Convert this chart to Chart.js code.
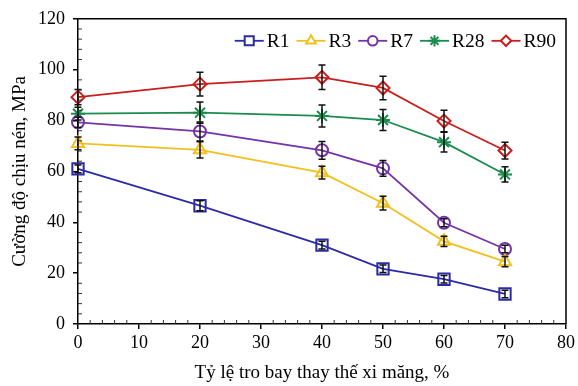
<!DOCTYPE html>
<html lang="vi">
<head>
    <meta charset="UTF-8">
    <title>Cường độ chịu nén</title>
    <script src="https://cdn.jsdelivr.net/npm/chart.js"></script>
    <style>
        html, body { margin: 0; padding: 0; background: #ffffff; }
        #wrap { width: 578px; height: 386px; position: relative; }
    </style>
</head>
<body>
    <div id="wrap"><canvas id="strengthChart"></canvas></div>
    <script>
        // Data
        const flyAsh = [0, 20, 40, 50, 60, 70];
        const labels = ['R1', 'R3', 'R7', 'R28', 'R90'];
        const r1 = [61, 46.5, 31, 21.7, 17.6, 11.8];
        const r3 = [71, 68.5, 59.5, 47.5, 32.5, 24.5];
        const r7 = [79.3, 75.7, 68.3, 61.2, 39.8, 29.5];
        const r28 = [82.7, 83.1, 81.8, 80.2, 71.5, 58.8];
        const r90 = [89.2, 94.3, 97, 92.8, 79.8, 68.2];
        const r1Err = [1.5, 2, 1.5, 1.5, 1.5, 1.5];
        const r3Err = [2.5, 3.2, 2.5, 2.7, 2, 2];
        const r7Err = [2, 3.7, 3.5, 3.1, 1.6, 1.5];
        const r28Err = [2.5, 4.2, 4.3, 4.1, 3.9, 3];
        const r90Err = [3, 4.7, 4.8, 4.6, 4.2, 3.3];
        const yTicks = [0, 20, 40, 60, 80, 100, 120];
        const xTicks = [0, 10, 20, 30, 40, 50, 60, 70, 80];

        const seriesValues = [r1, r3, r7, r28, r90];
        const seriesErrors = [r1Err, r3Err, r7Err, r28Err, r90Err];
        const colors = ['#2B2BA6', '#F2C01E', '#7434A8', '#1A8C4E', '#C81E1E'];
        const markers = ['rect', 'triangle', 'circle', 'star', 'rectRot'];
        const radii = [8, 7, 6, 7, 6.5];
        const FONT = '"Liberation Serif", "Times New Roman", serif';

        const datasets = seriesValues.map((vals, i) => ({
            label: labels[i],
            data: vals.map((v, j) => ({ x: flyAsh[j], y: v })),
            errors: seriesErrors[i],
            borderColor: colors[i],
            backgroundColor: 'rgba(0,0,0,0)',
            borderWidth: 1.8,
            pointStyle: markers[i],
            pointRadius: radii[i],
            pointBorderWidth: 2,
            pointBackgroundColor: 'rgba(0,0,0,0)',
            pointBorderColor: colors[i],
            clip: false,
            tension: 0
        }));

        // error bars, minor ticks, frame and legend
        const extras = {
            id: 'extras',
            afterDatasetsDraw(chart) {
                const ctx = chart.ctx;
                const xs = chart.scales.x, ys = chart.scales.y;
                ctx.save();
                ctx.strokeStyle = '#111';
                ctx.lineWidth = 1.5;
                chart.data.datasets.forEach(ds => {
                    ds.data.forEach((p, j) => {
                        const e = ds.errors[j];
                        const px = xs.getPixelForValue(p.x);
                        const top = ys.getPixelForValue(p.y + e);
                        const bot = ys.getPixelForValue(p.y - e);
                        ctx.beginPath();
                        ctx.moveTo(px, top); ctx.lineTo(px, bot);
                        ctx.moveTo(px - 3.5, top); ctx.lineTo(px + 3.5, top);
                        ctx.moveTo(px - 3.5, bot); ctx.lineTo(px + 3.5, bot);
                        ctx.stroke();
                    });
                });
                ctx.restore();
            },
            afterDraw(chart) {
                const ctx = chart.ctx;
                const a = chart.chartArea;
                const xs = chart.scales.x, ys = chart.scales.y;
                ctx.save();
                ctx.strokeStyle = '#000';
                ctx.lineWidth = 1.5;
                ctx.beginPath();
                ctx.moveTo(a.left, a.top); ctx.lineTo(a.right, a.top); ctx.lineTo(a.right, a.bottom);
                ctx.stroke();
                ctx.lineWidth = 1;
                ctx.strokeStyle = '#333';
                ctx.beginPath();
                for (let v = 2; v < 80; v += 2) {
                    if (v % 10 === 0) continue;
                    const px = xs.getPixelForValue(v);
                    ctx.moveTo(px, a.bottom); ctx.lineTo(px, a.bottom - 4);
                }
                for (let v = 4; v < 120; v += 4) {
                    if (v % 20 === 0) continue;
                    const py = ys.getPixelForValue(v);
                    ctx.moveTo(a.left, py); ctx.lineTo(a.left + 4, py);
                }
                ctx.stroke();

                // legend inside the plot, top right
                ctx.font = '19.5px ' + FONT;
                ctx.textBaseline = 'middle';
                const lineLen = 29, gap = 3, spacing = 7;
                const widths = labels.map(l => lineLen + gap + ctx.measureText(l).width);
                const total = widths.reduce((s, w) => s + w, 0) + spacing * (labels.length - 1);
                let x = a.right - 10 - total;
                const y = a.top + 22;
                chart.data.datasets.forEach((ds, i) => {
                    ctx.strokeStyle = ds.borderColor;
                    ctx.lineWidth = 1.8;
                    ctx.beginPath();
                    ctx.moveTo(x, y); ctx.lineTo(x + lineLen, y);
                    ctx.stroke();
                    ctx.lineWidth = 2;
                    ctx.fillStyle = '#ffffff';
                    Chart.helpers.drawPoint(ctx, {
                        pointStyle: ds.pointStyle,
                        radius: ds.pointRadius * 0.8,
                        borderWidth: 2,
                        rotation: 0
                    }, x + lineLen / 2, y);
                    ctx.fillStyle = '#000';
                    ctx.fillText(ds.label, x + lineLen + gap, y + 1);
                    x += widths[i] + spacing;
                });
                ctx.restore();
            }
        };

        new Chart(document.getElementById('strengthChart'), {
            type: 'line',
            data: { datasets: datasets },
            options: {
                responsive: true,
                maintainAspectRatio: false,
                animation: false,
                layout: { padding: { top: 18, right: 7, left: 0, bottom: 0 } },
                plugins: { legend: { display: false }, tooltip: { enabled: false } },
                scales: {
                    x: {
                        type: 'linear',
                        min: 0, max: 80,
                        afterBuildTicks: s => { s.ticks = xTicks.map(v => ({ value: v })); },
                        afterFit: s => { s.height = 62; },
                        grid: { drawOnChartArea: false, drawTicks: true, tickLength: 5, color: '#000', lineWidth: 1.5 },
                        border: { color: '#000', width: 1.5 },
                        ticks: { color: '#000', font: { family: FONT, size: 18 }, padding: 3, maxRotation: 0 },
                        title: { display: true, text: 'Tỷ lệ tro bay thay thế xi măng, %', color: '#000',
                                 font: { family: FONT, size: 19 }, padding: { top: 4, bottom: 2 } }
                    },
                    y: {
                        min: 0, max: 120,
                        afterBuildTicks: s => { s.ticks = yTicks.map(v => ({ value: v })); },
                        afterFit: s => { s.width = 78; },
                        grid: { drawOnChartArea: false, drawTicks: true, tickLength: 5, color: '#000', lineWidth: 1.5 },
                        border: { color: '#000', width: 1.5 },
                        ticks: { color: '#000', font: { family: FONT, size: 18 }, padding: 8 },
                        title: { display: true, text: 'Cường độ chịu nén, MPa', color: '#000',
                                 font: { family: FONT, size: 19 }, padding: { top: 9, bottom: 4 } }
                    }
                }
            },
            plugins: [extras]
        });
    </script>
</body>
</html>
